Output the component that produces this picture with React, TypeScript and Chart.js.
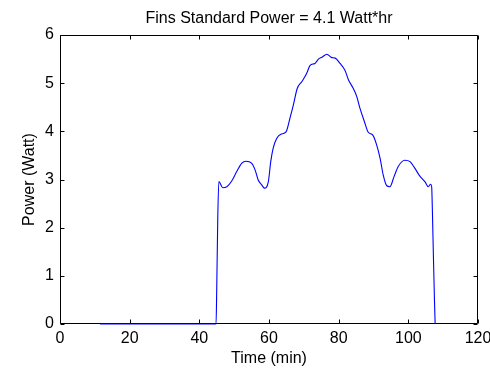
import React, { useEffect, useRef } from "react";
import { Chart, registerables } from "chart.js";

Chart.register(...registerables);

const timeMin = [
  11.5, 20, 30, 40, 44.8, 45.0, 45.3, 45.6, 46.7, 47.9, 49.3, 50.7, 52.2, 53.4, 55.0, 56.0, 56.9, 57.9,
  58.7, 59.8, 60.5, 61.2, 62.2, 63.4, 64.9, 66.0, 67.0, 68.1, 69.4, 70.8, 71.8, 73.2, 74.2, 75.2, 76.6,
  78.0, 79.0, 80.4, 81.8, 82.8, 84.2, 85.2, 86.1, 87.4, 88.5, 89.8, 90.9, 91.9, 92.8, 93.8, 94.7, 95.9,
  97.1, 99.0, 100.5, 101.9, 103.2, 104.8, 105.7, 106.4, 106.7, 106.9, 107.2, 107.5, 107.7,
];
const powerWatt = [
  0, 0, 0, 0, 0, 0.75, 2.23, 2.96, 2.83, 2.85, 2.97, 3.16, 3.34, 3.38, 3.34, 3.2, 2.99, 2.89,
  2.82, 2.95, 3.37, 3.65, 3.85, 3.94, 3.99, 4.27, 4.55, 4.89, 5.03, 5.2, 5.37, 5.41, 5.5, 5.54, 5.6,
  5.53, 5.52, 5.41, 5.27, 5.07, 4.89, 4.72, 4.48, 4.2, 3.98, 3.92, 3.72, 3.44, 3.09, 2.87, 2.85, 3.06,
  3.27, 3.4, 3.37, 3.23, 3.08, 2.95, 2.85, 2.9, 2.85, 2.37, 1.4, 0.5, 0,
];
const xTicks = [0, 20, 40, 60, 80, 100, 120];
const yTicks = [0, 1, 2, 3, 4, 5, 6];
const titleText = "Fins Standard Power = 4.1 Watt*hr";
const xLabel = "Time (min)";
const yLabel = "Power (Watt)";

const FONT = "'Liberation Sans', Arial, sans-serif";
const FS = 15.5;

const boxTicksPlugin = {
  id: "boxTicks",
  beforeDatasetsDraw(chart: any) {
    const { ctx, chartArea } = chart;
    const xs = chart.scales.x;
    const ys = chart.scales.y;
    const L = Math.round(chartArea.left) + 0.5;
    const R = Math.round(chartArea.right) - 0.5;
    const T = Math.round(chartArea.top) + 0.5;
    const B = Math.round(chartArea.bottom) - 0.5;
    const tl = 4;
    ctx.save();
    ctx.strokeStyle = "#000";
    ctx.lineWidth = 1;
    ctx.beginPath();
    ctx.rect(L, T, R - L, B - T);
    for (const v of xTicks) {
      const px = Math.round(xs.getPixelForValue(v)) + 0.5;
      ctx.moveTo(px, B);
      ctx.lineTo(px, B - tl);
      ctx.moveTo(px, T);
      ctx.lineTo(px, T + tl);
    }
    for (const v of yTicks) {
      const py = Math.round(ys.getPixelForValue(v)) + 0.5;
      ctx.moveTo(L, py);
      ctx.lineTo(L + tl, py);
      ctx.moveTo(R, py);
      ctx.lineTo(R - tl, py);
    }
    ctx.stroke();
    ctx.restore();
  },
  afterDraw(chart: any) {
    const { ctx, chartArea } = chart;
    ctx.save();
    ctx.fillStyle = "#000";
    ctx.font = `${FS + 0.5}px ${FONT}`;
    ctx.textAlign = "center";
    ctx.textBaseline = "alphabetic";
    ctx.fillText(titleText, (chartArea.left + chartArea.right) / 2, 23);
    ctx.restore();
  },
};

export default function App() {
  const ref = useRef<HTMLCanvasElement | null>(null);
  useEffect(() => {
    document.body.style.margin = "0";
    const canvas = ref.current!;
    const chart = new Chart(canvas, {
      type: "line",
      data: {
        datasets: [
          {
            data: timeMin.map((t, i) => ({ x: t, y: powerWatt[i] })),
            borderColor: "#0000ff",
            borderWidth: 1.1,
            pointRadius: 0,
            tension: 0,
            cubicInterpolationMode: "monotone",
            fill: false,
            clip: 2,
          },
        ],
      },
      options: {
        responsive: false,
        animation: false,
        devicePixelRatio: 1,
        layout: { padding: { left: 0, right: 12, top: 35, bottom: 0 } },
        plugins: {
          legend: { display: false },
          tooltip: { enabled: false },
          title: { display: false },
        },
        scales: {
          x: {
            type: "linear",
            min: 0,
            max: 120,
            grid: { display: false, drawTicks: false },
            border: { display: false },
            afterBuildTicks: (s: any) => {
              s.ticks = xTicks.map((v) => ({ value: v }));
            },
            afterFit: (s: any) => {
              s.height = 44;
              s.paddingLeft = 0;
              s.paddingRight = 0;
            },
            ticks: {
              color: "#000",
              padding: 5,
              maxRotation: 0,
              autoSkip: false,
              font: { family: FONT, size: FS + 0.5 },
            },
            title: {
              display: true,
              text: xLabel,
              color: "#000",
              font: { family: FONT, size: FS + 0.5, lineHeight: 1.2 },
              padding: { top: 0, bottom: 0 },
            },
          },
          y: {
            type: "linear",
            min: 0,
            max: 6,
            grid: { display: false, drawTicks: false },
            border: { display: false },
            afterBuildTicks: (s: any) => {
              s.ticks = yTicks.map((v) => ({ value: v }));
            },
            afterFit: (s: any) => {
              s.width = 60;
              s.paddingTop = 0;
              s.paddingBottom = 0;
            },
            ticks: {
              color: "#000",
              padding: 6,
              autoSkip: false,
              font: { family: FONT, size: FS + 0.5 },
            },
            title: {
              display: true,
              text: yLabel,
              color: "#000",
              font: { family: FONT, size: FS + 0.5, lineHeight: 1.2 },
              padding: { top: 20, bottom: 0 },
            },
          },
        },
      },
      plugins: [boxTicksPlugin],
    } as any);
    return () => chart.destroy();
  }, []);
  return (
    <div style={{ position: "absolute", left: 0, top: 0, width: 490, height: 368, background: "#fff" }}>
      <canvas ref={ref} width={490} height={368} style={{ width: 490, height: 368, display: "block" }} />
    </div>
  );
}
